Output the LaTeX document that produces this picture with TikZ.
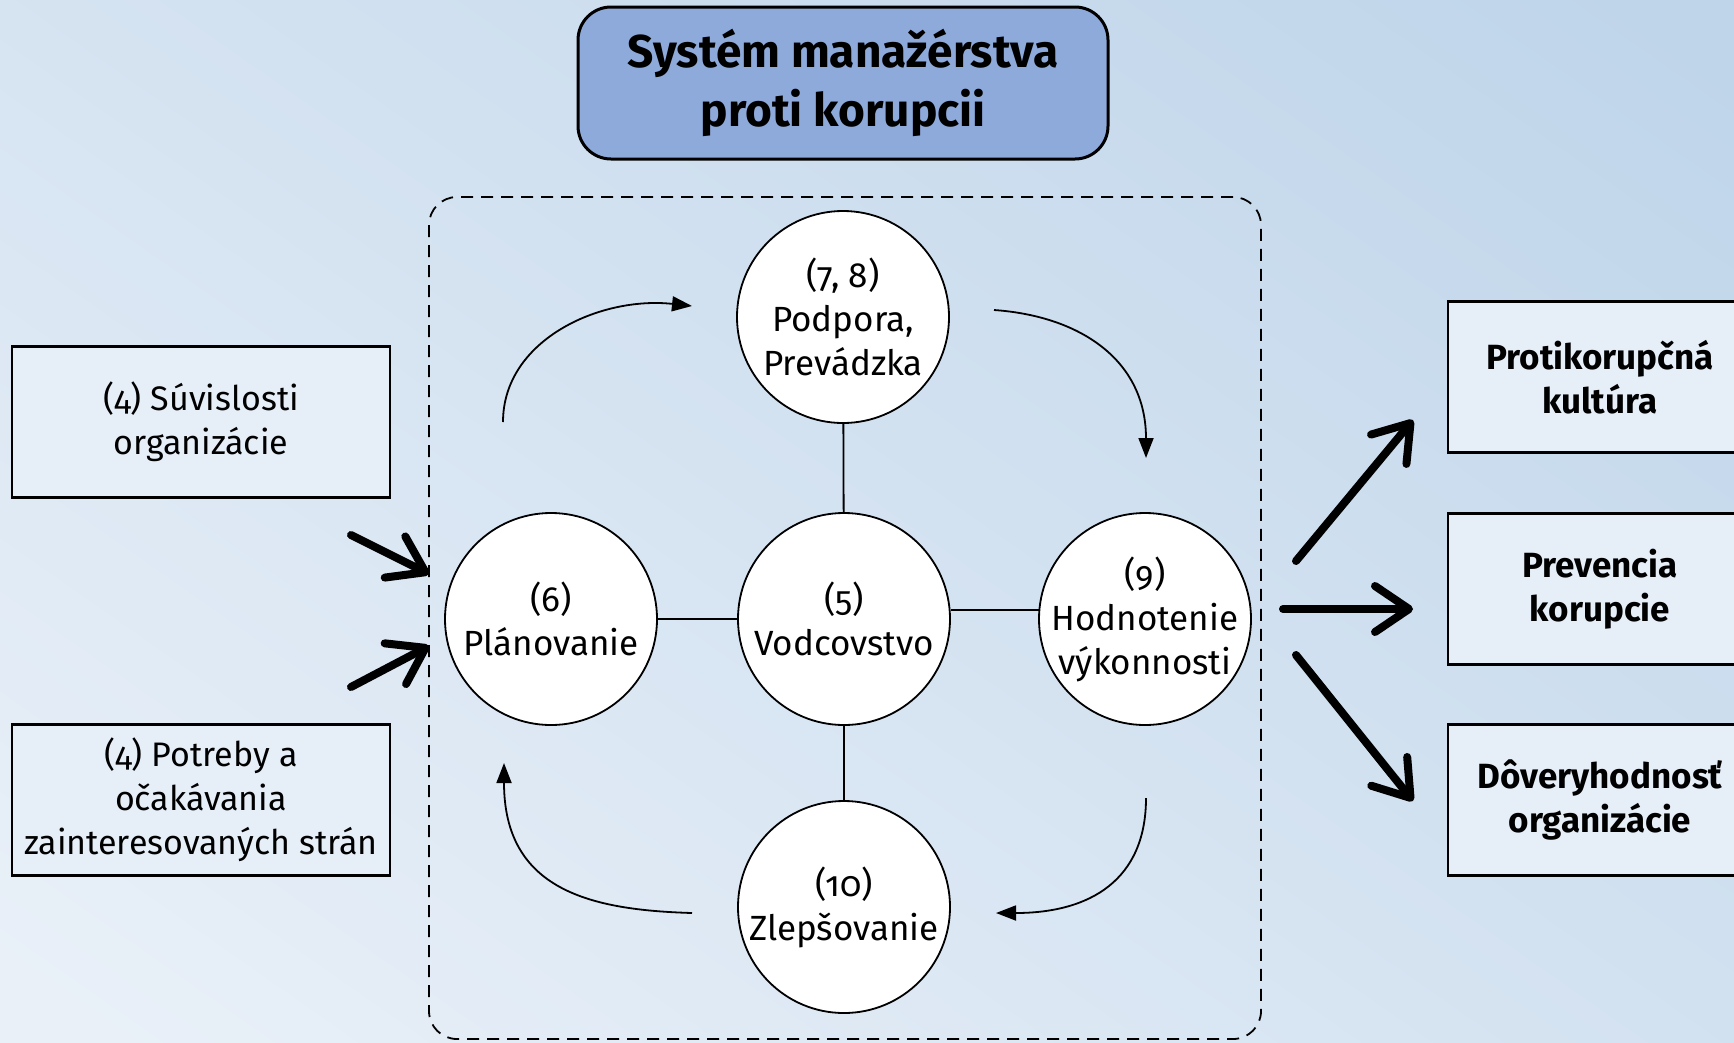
\documentclass[tikz,border=0pt]{standalone}
\usepackage{fontspec}
\setmainfont{Fira Sans}[Numbers=OldStyle]
\usetikzlibrary{arrows.meta}
\definecolor{bgA}{HTML}{E9F0F8}
\definecolor{bgB}{HTML}{BFD5EA}
\definecolor{boxfill}{HTML}{E6EEF8}
\definecolor{titlefill}{HTML}{8EAADB}
\tikzset{
  circ/.style={circle, draw=black, line width=1.8pt, fill=white, minimum size=212pt, inner sep=-18pt, align=center, font=\fontsize{35}{44}\selectfont},
  inbox/.style={rectangle, draw=black, line width=2.5pt, fill=boxfill, minimum width=378pt, minimum height=151pt, align=center, font=\fontsize{34}{44}\selectfont},
  outbox/.style={rectangle, draw=black, line width=2.5pt, fill=boxfill, minimum width=304pt, minimum height=151pt, align=center, font=\bfseries\fontsize{35}{44}\selectfont},
  titlebox/.style={rectangle, rounded corners=33pt, draw=black, line width=3pt, fill=titlefill, minimum width=530pt, minimum height=152pt, align=center, font=\bfseries\fontsize{46}{59}\selectfont},
  sysbox/.style={rectangle, rounded corners=28pt, draw=black, line width=1.8pt, dash pattern=on 12pt off 8pt, minimum width=832pt, minimum height=842pt},
  thin/.style={line width=1.8pt},
  cycarrow/.style={line width=1.8pt, -{Triangle[length=20pt,width=15pt]}},
  thick/.style={line width=8pt, line cap=round, -{Straight Barb[round,length=34pt,width=46pt]}},
}
\begin{document}
\begin{tikzpicture}[x=1pt,y=-1pt]
\clip (0,0) rectangle (1734,1042);
\shade[shading=axis, top color=bgB, bottom color=bgA, shading angle=-35] (-200,-200) rectangle (1934,1242);

% title
\node[titlebox] (title) at (843,83) {Systém manažérstva\\proti korupcii};

% system box
\node[sysbox] (sys) at (845,618) {};

% circles
\node[circ] (pod) at (843,317) {(7, 8)\\Podpora,\\Prevádzka};
\node[circ] (vod) at (844,619) {(5)\\Vodcovstvo};
\node[circ] (pla) at (551,619) {(6)\\Plánovanie};
\node[circ] (hod) at (1145,619) {(9)\\Hodnotenie\\výkonnosti};
\node[circ] (zle) at (844,907) {(10)\\Zlepšovanie};

\draw[thin] (pod) -- (vod);
\draw[thin] (pla) -- (vod);
\draw[thin] (vod.5) -- (hod.175);
\draw[thin] (vod) -- (zle);

% cycle arrows
\coordinate (c1s) at (503,422); \coordinate (c1e) at (692,306);
\coordinate (c2s) at (994,310); \coordinate (c2e) at (1146,458);
\coordinate (c3s) at (1146,798); \coordinate (c3e) at (996,913);
\coordinate (c4s) at (692,913); \coordinate (c4e) at (504,763);
\draw[cycarrow] (c1s) .. controls (503,340) and (600,296) .. (c1e);
\draw[cycarrow] (c2s) .. controls (1080,316) and (1146,360) .. (c2e);
\draw[cycarrow] (c3s) .. controls (1146,880) and (1090,913) .. (c3e);
\draw[cycarrow] (c4s) .. controls (590,910) and (504,890) .. (c4e);

% left boxes
\node[inbox] (sv) at (201,422) {(4) Súvislosti\\organizácie};
\node[inbox] (pt) at (201,800) {(4) Potreby a\\očakávania\\zainteresovaných strán};

\coordinate (la1) at (351,535); \coordinate (lb1) at (429,574);
\coordinate (la2) at (351,687); \coordinate (lb2) at (429,646);
\draw[thick] (la1) -- (lb1);
\draw[thick] (la2) -- (lb2);

% right boxes
\node[outbox] (o1) at (1600,377) {Protikorupčná\\kultúra};
\node[outbox] (o2) at (1600,589) {Prevencia\\korupcie};
\node[outbox] (o3) at (1600,800) {Dôveryhodnosť\\organizácie};

\coordinate (ra1) at (1296,561); \coordinate (rb1) at (1413,420);
\coordinate (ra2) at (1283,609); \coordinate (rb2) at (1413,609);
\coordinate (ra3) at (1296,655); \coordinate (rb3) at (1413,801);
\draw[thick] (ra1) -- (rb1);
\draw[thick] (ra2) -- (rb2);
\draw[thick] (ra3) -- (rb3);
\end{tikzpicture}
\end{document}
